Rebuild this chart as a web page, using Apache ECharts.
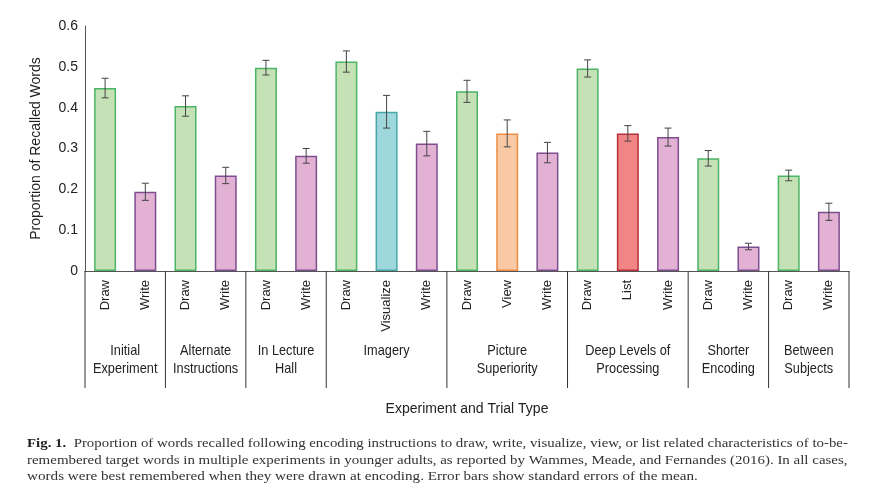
<!DOCTYPE html>
<html>
<head>
<meta charset="utf-8">
<script src="https://cdn.jsdelivr.net/npm/echarts@6/dist/echarts.min.js"></script>
<style>
html,body{margin:0;padding:0;background:#fff;}
#c{width:875px;height:494px;}
</style>
</head>
<body>
<div id="c"></div>
<script>
// ---- data ----
const trialLabels = ['Draw','Write','Draw','Write','Draw','Write','Draw','Visualize','Write','Draw','View','Write','Draw','List','Write','Draw','Write','Draw','Write'];
const recallValues = [0.448,0.194,0.404,0.234,0.498,0.282,0.513,0.390,0.312,0.440,0.337,0.290,0.496,0.337,0.328,0.276,0.060,0.234,0.145];
const stdErrors = [0.024,0.021,0.025,0.020,0.018,0.018,0.026,0.040,0.030,0.027,0.033,0.025,0.021,0.019,0.022,0.019,0.008,0.013,0.021];
const groupNames = ['Initial\nExperiment','Alternate\nInstructions','In Lecture\nHall','Imagery','Picture\nSuperiority','Deep Levels of\nProcessing','Shorter\nEncoding','Between\nSubjects'];
const groupSizes = [2,2,2,3,3,3,2,2];
const yTicks = [0,0.1,0.2,0.3,0.4,0.5,0.6];
const captionLines = [
  'Proportion of words recalled following encoding instructions to draw, write, visualize, view, or list related characteristics of to-be-',
  'remembered target words in multiple experiments in younger adults, as reported by Wammes, Meade, and Fernandes (2016). In all cases,',
  'words were best remembered when they were drawn at encoding. Error bars show standard errors of the mean.'
];

// ---- styles ----
const FONT = '"Liberation Sans",Arial,sans-serif';
const SERIF = '"Liberation Serif","Times New Roman",serif';
const typeStyle = {
  Draw:{fill:'#c5e2b6',stroke:'#4cb466'},
  Write:{fill:'#e3b1d4',stroke:'#7d4f8f'},
  Visualize:{fill:'#9fd8dc',stroke:'#45a6a8'},
  View:{fill:'#f9c8a4',stroke:'#ef8d45'},
  List:{fill:'#f18585',stroke:'#b8303a'}
};

const barData = recallValues.map((v,i)=>({
  value:v,
  itemStyle:{color:typeStyle[trialLabels[i]].fill,borderColor:typeStyle[trialLabels[i]].stroke,borderWidth:1.5}
}));
const errData = recallValues.map((v,i)=>[i,v,stdErrors[i]]);
const groupData = [];
let start = 0;
groupSizes.forEach((n,g)=>{ groupData.push([start,n,g]); start += n; });

const chart = echarts.init(document.getElementById('c'));
chart.setOption({
  animation:false,
  grid:{left:85,right:26,top:26,bottom:223},
  xAxis:{
    type:'category',
    data:trialLabels,
    axisLine:{lineStyle:{color:'#555',width:1}},
    axisTick:{show:false},
    axisLabel:{rotate:90,margin:9,fontSize:13,fontFamily:FONT,color:'#222',interval:0},
    name:'Experiment and Trial Type',
    nameLocation:'middle',
    nameGap:131,
    nameTextStyle:{fontSize:14,fontFamily:FONT,color:'#222'}
  },
  yAxis:{
    type:'value',
    min:yTicks[0],max:yTicks[yTicks.length-1],interval:0.1,
    axisLine:{show:true,lineStyle:{color:'#555',width:1}},
    axisTick:{show:false},
    splitLine:{show:false},
    axisLabel:{fontSize:14,fontFamily:FONT,color:'#222',margin:7,
      formatter:v=>v===0?'0':v.toFixed(1)},
    name:'Proportion of Recalled Words',
    nameLocation:'middle',
    nameGap:42,
    nameTextStyle:{fontSize:14,fontFamily:FONT,color:'#222'}
  },
  series:[
    {type:'bar',data:barData,barWidth:22,z:2},
    {
      type:'custom',z:3,data:errData,
      renderItem:function(params,api){
        const x=api.value(0),v=api.value(1),e=api.value(2);
        const top=api.coord([x,v+e]),bot=api.coord([x,v-e]);
        const hw=3.5;
        const st={stroke:'#444',lineWidth:1};
        return {type:'group',children:[
          {type:'line',shape:{x1:top[0],y1:top[1],x2:bot[0],y2:bot[1]},style:st},
          {type:'line',shape:{x1:top[0]-hw,y1:top[1],x2:top[0]+hw,y2:top[1]},style:st},
          {type:'line',shape:{x1:bot[0]-hw,y1:bot[1],x2:bot[0]+hw,y2:bot[1]},style:st}
        ]};
      }
    },
    {
      type:'custom',z:3,data:groupData,clip:false,
      renderItem:function(params,api){
        const s=api.value(0),n=api.value(1),g=api.value(2);
        const bw=api.size([1,0])[0];
        const p0=api.coord([s,0]);
        const pLast=api.coord([s+n-1,0]);
        const xl=p0[0]-bw/2, xr=pLast[0]+bw/2;
        const y0=p0[1];
        const st={stroke:'#333',lineWidth:1};
        const children=[
          {type:'line',shape:{x1:xl,y1:y0,x2:xl,y2:y0+117},style:st},
          {type:'text',x:(xl+xr)/2,y:y0+71,scaleX:0.85,
            style:{x:0,y:0,text:groupNames[g],textAlign:'center',textVerticalAlign:'top',
            font:'15px '+FONT,fill:'#222',lineHeight:18}}
        ];
        if(g===groupSizes.length-1){
          children.push({type:'line',shape:{x1:xr,y1:y0,x2:xr,y2:y0+117},style:st});
        }
        return {type:'group',children:children};
      }
    }
  ],
  graphic:[
    {type:'text',x:27,y:437,scaleX:1.143,style:{
      text:'{b|Fig. 1.}  '+captionLines[0],
      font:'13px '+SERIF,fill:'#333',
      rich:{b:{font:'bold 13px '+SERIF,fill:'#222'}}}},
    {type:'text',x:27,y:454,scaleX:1.15,style:{
      text:captionLines[1],font:'13px '+SERIF,fill:'#333'}},
    {type:'text',x:27,y:470,scaleX:1.165,style:{
      text:captionLines[2],font:'13px '+SERIF,fill:'#333'}}
  ]
});
</script>
</body>
</html>
